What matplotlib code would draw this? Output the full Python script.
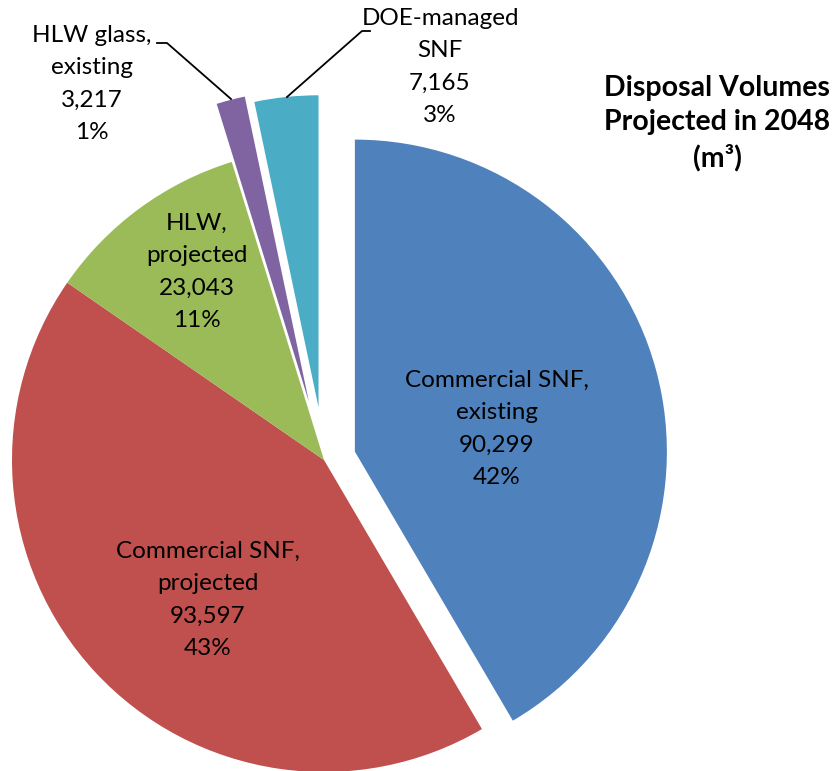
import matplotlib
matplotlib.use("Agg")
import matplotlib.pyplot as plt

plt.rcParams['font.family'] = ['Lato', 'DejaVu Sans']

# Disposal volumes (m3) projected in 2048
categories = ["Commercial SNF,\nexisting", "Commercial SNF,\nprojected", "HLW,\nprojected",
              "HLW glass,\nexisting", "DOE-managed\nSNF"]
volumes = [90299, 93597, 23043, 3217, 7165]
percents = ["42%", "43%", "11%", "1%", "3%"]
colors = ["#4F81BD", "#C0504D", "#9BBB59", "#8064A2", "#4BACC6"]

fig = plt.figure(figsize=(8.38, 7.71), dpi=100)
ax = fig.add_axes([0, 0, 1, 1])

# axes work in pixel units (y up)
R = 312
cx, cy = 324, 771 - 460
explode = [32, 0, 0, 60, 53]

ax.pie(volumes, colors=colors, startangle=90, counterclock=False,
       center=(cx, cy), radius=R, explode=explode,
       wedgeprops={'linewidth': 0}, frame=True)
ax.set_xlim(0, 838)
ax.set_ylim(0, 771)
ax.set_aspect('equal')
ax.axis('off')

labels = ["%s\n%s\n%s" % (c, format(v, ","), p) for c, v, p in zip(categories, volumes, percents)]
# label centres in pixels (x, y from top)
label_pos = [(497, 429), (208, 600), (197, 272), (92, 84), (440, 67)]
for lab, (x, y) in zip(labels, label_pos):
    ax.text(x, 771 - y, lab, ha='center', va='center', fontsize=17.5, linespacing=1.68,
            color='black')

# leader lines for the outside labels
ax.plot([157, 167, 231], [771 - 43, 771 - 43, 771 - 99], color='black', lw=1.3)
ax.plot([370, 362, 287], [771 - 31, 771 - 31, 771 - 97], color='black', lw=1.3)

ax.text(717, 771 - 123, "Disposal Volumes\nProjected in 2048\n(m\u00b3)", ha='center', va='center',
        fontsize=20.5, fontweight='bold', linespacing=1.4)

fig.savefig("out.png", dpi=100)
